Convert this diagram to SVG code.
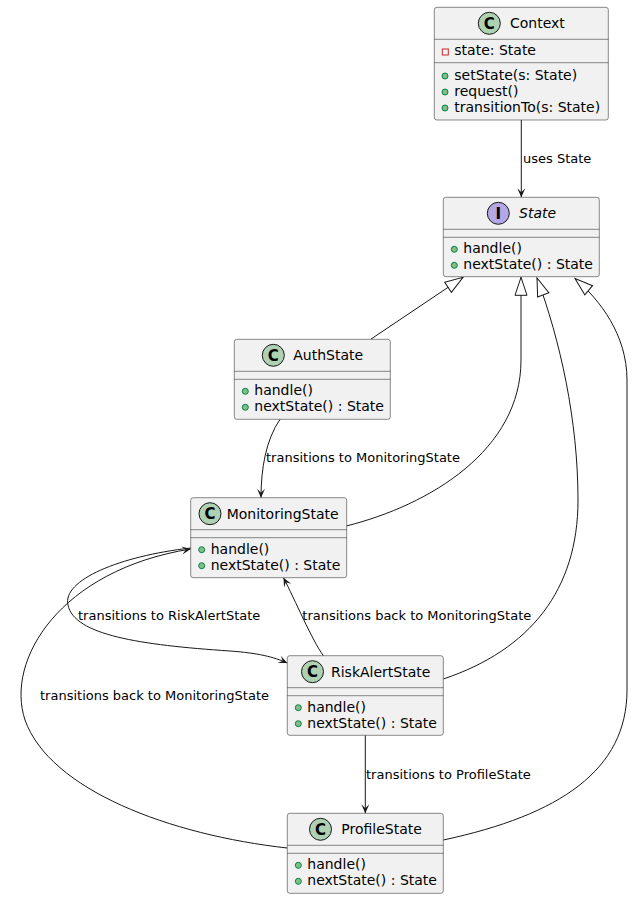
<svg xmlns="http://www.w3.org/2000/svg" width="634" height="899" viewBox="0 0 634 899">
<style>
.box{fill:#F1F1F1;stroke:#181818;stroke-width:0.5}
.div{stroke:#181818;stroke-width:0.5}
.t{font-family:"DejaVu Sans","Noto Sans",sans-serif;font-size:14px;fill:#000}
.lbl{font-family:"DejaVu Sans","Noto Sans",sans-serif;font-size:13px;fill:#000}
.ic{fill:#ADD1B2;stroke:#181818;stroke-width:1}
.ii{fill:#B4A7E5;stroke:#181818;stroke-width:1}
.il{font-family:"DejaVu Sans",sans-serif;font-size:15px;font-weight:bold;fill:#000;text-anchor:middle}
.pub{fill:#84BE84;stroke:#038048;stroke-width:1}
.priv{fill:none;stroke:#C82930;stroke-width:1}
.e{fill:none;stroke:#181818;stroke-width:1}
</style>
<defs>
<marker id="arr" viewBox="0 0 9 8" refX="9" refY="4" markerWidth="9" markerHeight="8" markerUnits="userSpaceOnUse" orient="auto" style="overflow:visible"><path d="M0,0 L9,4 L0,8 L4,4 Z" fill="#181818"/></marker>
<marker id="ext" viewBox="0 0 18 12" refX="18" refY="6" markerWidth="18" markerHeight="12" markerUnits="userSpaceOnUse" orient="auto" style="overflow:visible"><path d="M0,0 L18,6 L0,12 Z" fill="#FFFFFF" stroke="#181818" stroke-width="1"/></marker>
</defs>
<rect width="634" height="899" fill="#FFFFFF"/>

<g id="edges">
<path class="e" d="M521.3,120 L521.3,197.3" marker-end="url(#arr)"/>
<text class="lbl" x="523" y="162.7">uses State</text>
<path class="e" d="M370.7,339.3 L463,277.3" marker-end="url(#ext)"/>
<path class="e" d="M346.3,526 C 430,505 521,450 521,360 L521,277.3" marker-end="url(#ext)"/>
<path class="e" d="M443.3,679 C 530,650 578,590 578,500 C 578,420 560,340 537,278" marker-end="url(#ext)"/>
<path class="e" d="M443.3,840 C 560,815 627,770 627,690 L627,380 C 627,335 600,300 575,278.5" marker-end="url(#ext)"/>
<path class="e" d="M280,419.3 C 266,440 261,468 261,497.7" marker-end="url(#arr)"/>
<text class="lbl" x="266" y="462">transitions to MonitoringState</text>
<path class="e" d="M190.7,548 C 120,556 62,580 68,605 C 74,635 140,645 230,651 C 258,653 274,657 287.3,663" marker-end="url(#arr)"/>
<text class="lbl" x="78" y="620">transitions to RiskAlertState</text>
<path class="e" d="M323.3,655.7 C 312,640 295,600 283.5,577.7" marker-end="url(#arr)"/>
<text class="lbl" x="302.3" y="620">transitions back to MonitoringState</text>
<path class="e" d="M287.3,848 C 170,835 50,790 25,720 C 5,660 60,570 190.7,549" marker-end="url(#arr)"/>
<text class="lbl" x="40" y="699.5">transitions back to MonitoringState</text>
<path class="e" d="M365.3,735.3 L365.3,813.3" marker-end="url(#arr)"/>
<text class="lbl" x="366" y="779">transitions to ProfileState</text>
</g>

<g id="Context">
<rect class="box" x="434.3" y="7.3" width="174" height="112.7" rx="2.5"/>
<line class="div" x1="434.3" y1="39.3" x2="608.3" y2="39.3"/>
<line class="div" x1="434.3" y1="62.7" x2="608.3" y2="62.7"/>
<circle class="ic" cx="489.3" cy="23.3" r="11"/>
<text class="il" x="489.3" y="28.8">C</text>
<text class="t" x="510" y="28.3">Context</text>
<rect class="priv" x="442.3" y="49" width="6" height="6"/>
<text class="t" x="454.3" y="55.3">state: State</text>
<circle class="pub" cx="445" cy="76" r="3"/>
<text class="t" x="454.3" y="80.3">setState(s: State)</text>
<circle class="pub" cx="445" cy="92" r="3"/>
<text class="t" x="454.3" y="96.3">request()</text>
<circle class="pub" cx="445" cy="108" r="3"/>
<text class="t" x="454.3" y="112.3">transitionTo(s: State)</text>
</g>

<g id="State">
<rect class="box" x="443.3" y="197.3" width="156" height="79.4" rx="2.5"/>
<line class="div" x1="443.3" y1="229.3" x2="599.3" y2="229.3"/>
<line class="div" x1="443.3" y1="237.3" x2="599.3" y2="237.3"/>
<circle class="ii" cx="498.3" cy="213.3" r="11"/>
<text class="il" x="498.3" y="218.8">I</text>
<text class="t" x="519" y="218" font-style="italic">State</text>
<circle class="pub" cx="454.3" cy="249.3" r="3"/>
<text class="t" x="463.3" y="253.3">handle()</text>
<circle class="pub" cx="454.3" cy="265.3" r="3"/>
<text class="t" x="463.3" y="269.3">nextState() : State</text>
</g>

<g id="AuthState">
<rect class="box" x="234.3" y="339.3" width="156" height="80" rx="2.5"/>
<line class="div" x1="234.3" y1="371.3" x2="390.3" y2="371.3"/>
<line class="div" x1="234.3" y1="379.3" x2="390.3" y2="379.3"/>
<circle class="ic" cx="273.3" cy="355.3" r="11"/>
<text class="il" x="273.3" y="360.8">C</text>
<text class="t" x="293.3" y="360.3">AuthState</text>
<circle class="pub" cx="245.3" cy="391.3" r="3"/>
<text class="t" x="254.3" y="395.3">handle()</text>
<circle class="pub" cx="245.3" cy="407.3" r="3"/>
<text class="t" x="254.3" y="411.3">nextState() : State</text>
</g>

<g id="MonitoringState">
<rect class="box" x="190.7" y="497.7" width="156" height="80" rx="2.5"/>
<line class="div" x1="190.7" y1="529.7" x2="346.7" y2="529.7"/>
<line class="div" x1="190.7" y1="537.7" x2="346.7" y2="537.7"/>
<circle class="ic" cx="210" cy="513.7" r="11"/>
<text class="il" x="210" y="519.2">C</text>
<text class="t" x="226.7" y="518.7">MonitoringState</text>
<circle class="pub" cx="201.7" cy="549.7" r="3"/>
<text class="t" x="210.7" y="553.7">handle()</text>
<circle class="pub" cx="201.7" cy="565.7" r="3"/>
<text class="t" x="210.7" y="569.7">nextState() : State</text>
</g>

<g id="RiskAlertState">
<rect class="box" x="287.3" y="655.7" width="156" height="79.6" rx="2.5"/>
<line class="div" x1="287.3" y1="687.7" x2="443.3" y2="687.7"/>
<line class="div" x1="287.3" y1="695.7" x2="443.3" y2="695.7"/>
<circle class="ic" cx="312.5" cy="671.7" r="11"/>
<text class="il" x="312.5" y="677.2">C</text>
<text class="t" x="331" y="676.7">RiskAlertState</text>
<circle class="pub" cx="298.3" cy="707.7" r="3"/>
<text class="t" x="307.3" y="711.7">handle()</text>
<circle class="pub" cx="298.3" cy="723.7" r="3"/>
<text class="t" x="307.3" y="727.7">nextState() : State</text>
</g>

<g id="ProfileState">
<rect class="box" x="287.3" y="813.3" width="156" height="80" rx="2.5"/>
<line class="div" x1="287.3" y1="845.3" x2="443.3" y2="845.3"/>
<line class="div" x1="287.3" y1="853.3" x2="443.3" y2="853.3"/>
<circle class="ic" cx="320.5" cy="829.3" r="11"/>
<text class="il" x="320.5" y="834.8">C</text>
<text class="t" x="341.3" y="834.3">ProfileState</text>
<circle class="pub" cx="298.3" cy="865.3" r="3"/>
<text class="t" x="307.3" y="869.3">handle()</text>
<circle class="pub" cx="298.3" cy="881.3" r="3"/>
<text class="t" x="307.3" y="885.3">nextState() : State</text>
</g>
</svg>
